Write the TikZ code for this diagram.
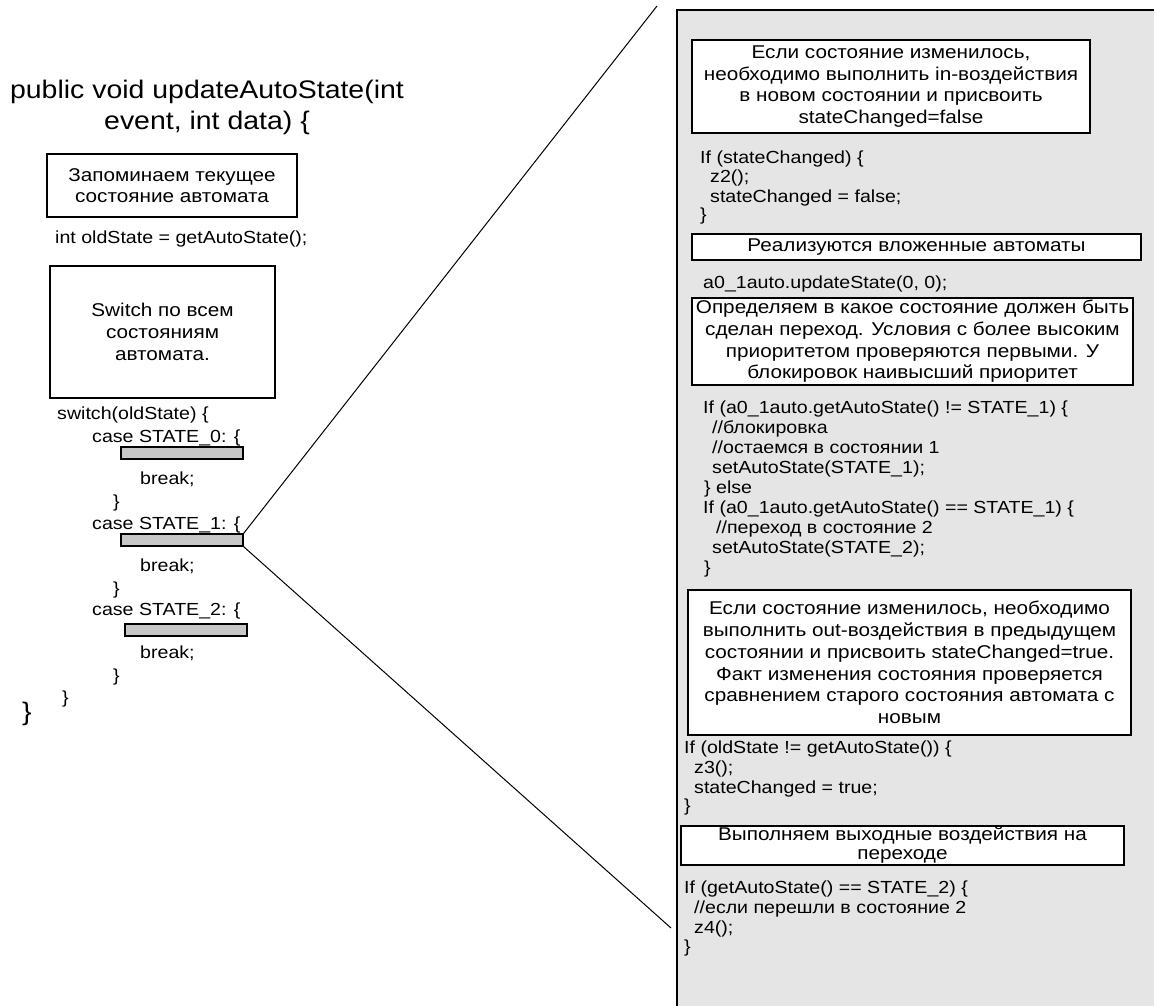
\documentclass[tikz,border=0pt]{standalone}
\usepackage{fontspec}
\setmainfont{Liberation Sans}[FakeStretch=1.12]
\begin{document}
\begin{tikzpicture}[x=1pt,y=-1pt,
  code/.style={anchor=base west, inner sep=0pt, font=\fontsize{17.5}{20}\selectfont},
  big/.style={inner sep=0pt, align=center, font=\fontsize{25.4}{31}\selectfont},
  box/.style={draw, line width=1.2pt, fill=white, align=center, inner sep=0pt,
    font=\fontsize{18.5}{21.7}\selectfont},
  bar/.style={draw, line width=1.2pt, fill=black!22, inner sep=0pt,
    minimum width=122pt, minimum height=12pt},
  link/.style={line width=1pt}]
\useasboundingbox (0,0) rectangle (1154,1005);

% detail panel on the right
\fill[black!10] (677,10) rectangle (1170,1020);
\draw[line width=1.2pt] (677,1020) -- (677,10) -- (1170,10);

% ---- method outline ----
\node[big] (title) at (207,107.5) {public void updateAutoState(int\\event, int data) \{};
\node[box, minimum width=250pt, minimum height=63pt] (mem) at (172,185.5)
  {Запоминаем текущее\\состояние автомата};
\node[code] (old) at (55,243) {int oldState = getAutoState();};
\node[box, minimum width=225pt, minimum height=132pt] (sw) at (162.5,332)
  {Switch по всем\\состояниям\\автомата.};
\node[code] (swl) at (57,419) {switch(oldState) \{};
\node[code] (c0) at (92,442) {case STATE\_0: \{};
\node[bar] (bar0) at (182,453) {};
\node[code] (b0) at (140,484) {break;};
\node[code] (e0) at (113,507) {\}};
\node[code] (c1) at (92,529) {case STATE\_1: \{};
\node[bar] (bar1) at (182,540) {};
\node[code] (b1) at (140,571) {break;};
\node[code] (e1) at (113,594) {\}};
\node[code] (c2) at (92,615) {case STATE\_2: \{};
\node[bar] (bar2) at (186,630) {};
\node[code] (b2) at (140,658) {break;};
\node[code] (e2) at (113,681) {\}};
\node[code] (esw) at (62,703) {\}};
\node[big, anchor=base west] (emeth) at (22,720) {\}};

% ---- body of the STATE_1 case ----
\node[box, minimum width=398pt, minimum height=93pt] (bA) at (891,86.5)
  {Если состояние изменилось,\\необходимо выполнить in-воздействия\\в новом состоянии и присвоить\\stateChanged=false};
\node[code] (r1) at (700,163) {If (stateChanged) \{};
\node[code] (r2) at (710,182) {z2();};
\node[code] (r3) at (710,202) {stateChanged = false;};
\node[code] (r4) at (700,220) {\}};
\node[box, minimum width=449pt, minimum height=26pt] (bB) at (916.5,247)
  {Реализуются вложенные автоматы};
\node[code] (r5) at (703,288) {a0\_1auto.updateState(0, 0);};
\node[box, minimum width=441pt, minimum height=87pt] (bC) at (912.5,341.5)
  {Определяем в какое состояние должен быть\\сделан переход. Условия с более высоким\\приоритетом проверяются первыми. У\\блокировок наивысший приоритет};
\node[code] (s1) at (703,413) {If (a0\_1auto.getAutoState() != STATE\_1) \{};
\node[code] (s2) at (712,433) {//блокировка};
\node[code] (s3) at (712,453) {//остаемся в состоянии 1};
\node[code] (s4) at (712,473) {setAutoState(STATE\_1);};
\node[code] (s5) at (704,493) {\} else};
\node[code] (s6) at (703,513) {If (a0\_1auto.getAutoState() == STATE\_1) \{};
\node[code] (s7) at (716,533) {//переход в состояние 2};
\node[code] (s8) at (712,553) {setAutoState(STATE\_2);};
\node[code] (s9) at (704,573) {\}};
\node[box, minimum width=443pt, minimum height=145pt] (bD) at (909.5,662.5)
  {Если состояние изменилось, необходимо\\выполнить out-воздействия в предыдущем\\состоянии и присвоить stateChanged=true.\\Факт изменения состояния проверяется\\сравнением старого состояния автомата с\\новым};
\node[code] (t1) at (684,753) {If (oldState != getAutoState()) \{};
\node[code] (t2) at (694,773) {z3();};
\node[code] (t3) at (694,793) {stateChanged = true;};
\node[code] (t4) at (684,811) {\}};
\node[box, minimum width=443pt, minimum height=39pt,
  font=\fontsize{18.5}{19}\selectfont] (bE) at (902.5,845.5)
  {Выполняем выходные воздействия на\\переходе};
\node[code] (u1) at (684,893) {If (getAutoState() == STATE\_2) \{};
\node[code] (u2) at (694,913) {//если перешли в состояние 2};
\node[code] (u3) at (694,933) {z4();};
\node[code] (u4) at (684,952) {\}};

% zoom lines from the STATE_1 placeholder to the panel
\coordinate (zt) at (657,6);
\coordinate (zb) at (671,928);
\draw[link] (bar1.north east) -- (zt);
\draw[link] (bar1.south east) -- (zb);
\end{tikzpicture}
\end{document}
